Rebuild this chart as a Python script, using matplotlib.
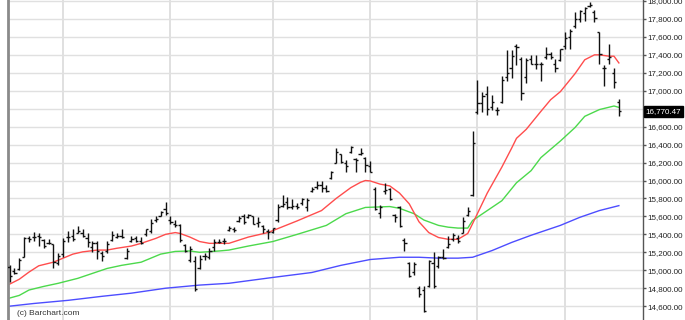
import matplotlib
matplotlib.use("Agg")
from matplotlib import pyplot as plt
from matplotlib import transforms
import numpy as np

# daily bars, mid June -> mid December (index = trading day)
opens = [15040, 14990, 15010, 15150, 15360, 15370, 15380, 15340, 15300, 15290, 15080,
         15180, 15370, 15380, 15420, 15420, 15360, 15260, 15300, 15190, 15210, 15340,
         15370, 15380, 15140, 15330, 15360, 15330, 15400, 15440, 15560, 15610, 15680,
         15560, 15520, 15500, 15280, 15120, 15100, 15020, 15160, 15150, 15260, 15320,
         15330, 15450, 15460, 15550, 15600, 15590, 15600, 15530, 15490, 15440,
         15430, 15560, 15720, 15760, 15700, 15720, 15750, 15700, 15880, 15930, 15950,
         15920, 16030, 16200, 16290, 16200, 16320, 16240, 16300, 16250,
         16160, 15900, 15640, 15880, 15900, 15620, 15700, 15340, 15080, 14980, 14800,
         14780, 14830, 15080, 15050, 15150, 15260, 15350, 15360, 15420, 15620, 15840,
         16760, 16860, 16960, 16820, 16790, 16880, 17150, 17250, 17500, 17350, 17150,
         17350, 17300, 17300, 17380, 17410, 17300, 17340,
         17500, 17600, 17720, 17800, 17870, 17940, 17880, 17650, 17250, 17350, 17200, 16880]
highs = [15055, 15030, 15135, 15376, 15387, 15430, 15420, 15353, 15353, 15298, 15188,
         15365, 15443, 15465, 15498, 15465, 15410, 15330, 15330, 15220, 15330, 15440,
         15410, 15465, 15245, 15380, 15380, 15370, 15465, 15575, 15600, 15660, 15760,
         15600, 15555, 15520, 15290, 15265, 15155, 15175, 15190, 15245, 15345, 15350,
         15360, 15490, 15480, 15610, 15630, 15630, 15610, 15590, 15500, 15460,
         15475, 15740, 15840, 15820, 15790, 15750, 15810, 15800, 15930, 16000, 15990,
         15950, 16110, 16360, 16300, 16230, 16385, 16250, 16360, 16260,
         16220, 15930, 15730, 15975, 15920, 15630, 15720, 15355, 15090, 15090, 14820,
         14820, 15110, 15200, 15160, 15240, 15380, 15420, 15390, 15590, 15710, 16550,
         17125, 16990, 17050, 16950, 16815, 17160, 17450, 17450, 17525, 17380, 17360,
         17400, 17400, 17325, 17490, 17435, 17350, 17470,
         17660, 17690, 17880, 17900, 17935, 17990, 17900, 17660, 17290, 17525, 17250, 16905]
lows = [14870, 14960, 15000, 15145, 15310, 15330, 15275, 15253, 15290, 15022, 15055,
        15145, 15310, 15330, 15410, 15370, 15255, 15200, 15130, 15100, 15190, 15330,
        15355, 15355, 15130, 15310, 15310, 15290, 15385, 15420, 15540, 15600, 15620,
        15520, 15480, 15320, 15200, 15090, 14770, 15010, 15120, 15130, 15220, 15300,
        15290, 15440, 15430, 15540, 15520, 15580, 15520, 15480, 15420, 15350,
        15420, 15540, 15700, 15680, 15680, 15680, 15730, 15665, 15870, 15900, 15870,
        15870, 16020, 16190, 16190, 16090, 16310, 16090, 16280, 16090,
        16090, 15670, 15580, 15850, 15780, 15540, 15480, 15220, 14920, 14950, 14700,
        14540, 14810, 14800, 15030, 15130, 15250, 15330, 15300, 15410, 15600, 15830,
        16740, 16760, 16730, 16780, 16730, 16860, 17110, 17140, 17290, 16900, 17090,
        17300, 17245, 17110, 17350, 17350, 17210, 17330,
        17470, 17470, 17700, 17770, 17780, 17930, 17770, 17300, 17050, 17300, 17030, 16720]
closes = [14933, 14975, 15115, 15361, 15349, 15369, 15376, 15267, 15308, 15095, 15162,
          15326, 15369, 15348, 15437, 15379, 15314, 15302, 15216, 15164, 15297, 15395,
          15379, 15370, 15215, 15343, 15328, 15300, 15457, 15529, 15570, 15646, 15640,
          15540, 15500, 15340, 15210, 15232, 14790, 15130, 15161, 15213, 15314, 15318,
          15322, 15470, 15454, 15586, 15539, 15613, 15521, 15534, 15459, 15424,
          15470, 15700, 15740, 15700, 15720, 15705, 15790, 15788, 15909, 15948, 15911,
          15888, 16100, 16321, 16205, 16167, 16374, 16229, 16310, 16173,
          16100, 15680, 15710, 15890, 15790, 15595, 15490, 15300, 14936, 15073, 14738,
          14550, 15100, 14830, 15150, 15140, 15290, 15388, 15329, 15553, 15658, 16413,
          16860, 16940, 16800, 16880, 16780, 17124, 17200, 17392, 17490, 16970, 17340,
          17300, 17300, 17300, 17410, 17380, 17250, 17460,
          17590, 17663, 17800, 17887, 17920, 17960, 17813, 17412, 17257, 17371, 17099, 16770.47]

# first trading day of Jul, Aug, Sep, Oct, Nov, Dec
month_starts = [11, 33, 54, 74, 96, 114]

# moving averages (bar index, value)
ma_red_x = [0, 2, 4, 6, 9, 11, 13, 15, 18, 20, 22, 25, 27, 30, 32, 34, 35, 37, 39, 41, 45,
            49, 53, 59, 64, 67, 70, 72, 73, 74, 76, 78, 80, 82, 83, 84, 86, 88, 90, 92, 94,
            95, 98, 101, 103, 104, 106, 109, 111, 113, 116, 118, 120, 121, 123, 124, 125]
ma_red_y = [14845, 14900, 14980, 15050, 15090, 15135, 15180, 15205, 15225, 15225, 15245,
            15270, 15300, 15355, 15400, 15420, 15410, 15370, 15320, 15300, 15300,
            15370, 15420, 15550, 15665, 15800, 15920, 15980, 16000, 15995, 15960, 15940,
            15860, 15740, 15640, 15540, 15420, 15365, 15345, 15345, 15410,
            15520, 15860, 16150, 16360, 16470, 16570, 16770, 16900, 16990, 17190, 17345,
            17400, 17400, 17385, 17385, 17310]
ma_green_x = [0, 2, 4, 7, 10, 14, 17, 20, 23, 27, 31, 34, 37, 39, 43, 45, 49, 54, 59, 65,
              69, 73, 78, 80, 83, 85, 88, 90, 92, 94, 95, 98, 101, 104, 107, 109, 113,
              116, 118, 121, 124, 125]
ma_green_y = [14690, 14720, 14780, 14820, 14855, 14910, 14965, 15020, 15055, 15090, 15180,
              15210, 15215, 15200, 15215, 15225, 15270, 15320, 15400, 15500,
              15630, 15700, 15710, 15690, 15630, 15560, 15500, 15480, 15470, 15470, 15555,
              15665, 15775, 15975, 16110, 16255, 16440, 16590, 16715, 16790, 16830, 16815]
ma_blue_x = [0, 5, 12, 19, 25, 32, 39, 45, 54, 62, 68, 74, 80, 84, 88, 92, 95, 99, 103,
             107, 113, 117, 121, 125]
ma_blue_y = [14600, 14630, 14665, 14710, 14745, 14800, 14835, 14855, 14920, 14975, 15055,
             15120, 15145, 15145, 15135, 15135, 15145, 15220, 15310, 15390, 15500, 15590,
             15665, 15720]

last_price = 16770.47

plt.rcParams['font.family'] = ['Liberation Sans', 'DejaVu Sans']

fig = plt.figure(figsize=(6.85, 3.2), dpi=100)
ax = fig.add_axes([8 / 685, 0, 635 / 685, 1])

ax.set_xlim(-0.31, 129.95)
ax.set_ylim(14446, 18011)

# grid
yticks = np.arange(14600, 18001, 200)
for v in yticks:
    ax.axhline(v, color='#e0e0e0', lw=1, zorder=0)
for m in month_starts:
    ax.axvline(m, color='#e0e0e0', lw=1.4, zorder=0)

# moving averages
ax.plot(ma_blue_x, ma_blue_y, color='#4d4dff', lw=1, zorder=2)
ax.plot(ma_green_x, ma_green_y, color='#4cd94c', lw=1, zorder=2)
ax.plot(ma_red_x, ma_red_y, color='#ff4d4d', lw=1, zorder=2)

# ohlc bars
idx = np.arange(len(closes))
tick = 0.45
ax.vlines(idx, lows, highs, color='#111111', lw=1, zorder=3)
ax.hlines(opens, idx - tick, idx, color='#111111', lw=1, zorder=3)
ax.hlines(closes, idx, idx + tick, color='#111111', lw=1, zorder=3)

# axes look
ax.set_xticks([])
ax.yaxis.tick_right()
ax.set_yticks(yticks)
# 16,800 sits under the last price box
ax.set_yticklabels(["" if v == 16800 else f"{v:,.2f}" for v in yticks])
ax.tick_params(axis='y', direction='out', length=2.5, width=1, color='#555555',
               labelsize=5.8, labelcolor='#222222', pad=0.6)
ax.spines['top'].set_visible(False)
ax.spines['bottom'].set_visible(False)
ax.spines['left'].set_color('#8a8a8a')
ax.spines['left'].set_linewidth(2)
ax.spines['right'].set_color('#555555')
ax.spines['right'].set_linewidth(1)

# last price box
trans = transforms.blended_transform_factory(ax.transAxes, ax.transData)
ax.text(1.004, last_price, f"{last_price:,.2f}", transform=trans, ha='left', va='center',
        fontsize=5.8, color='white', zorder=10, clip_on=False,
        bbox=dict(boxstyle='square,pad=0.25', fc='black', ec='black'))

ax.text(0.014, 0.01, "(c) Barchart.com", transform=ax.transAxes, fontsize=6,
        color='#333333', ha='left', va='bottom')

plt.savefig('out.png', dpi=100)
